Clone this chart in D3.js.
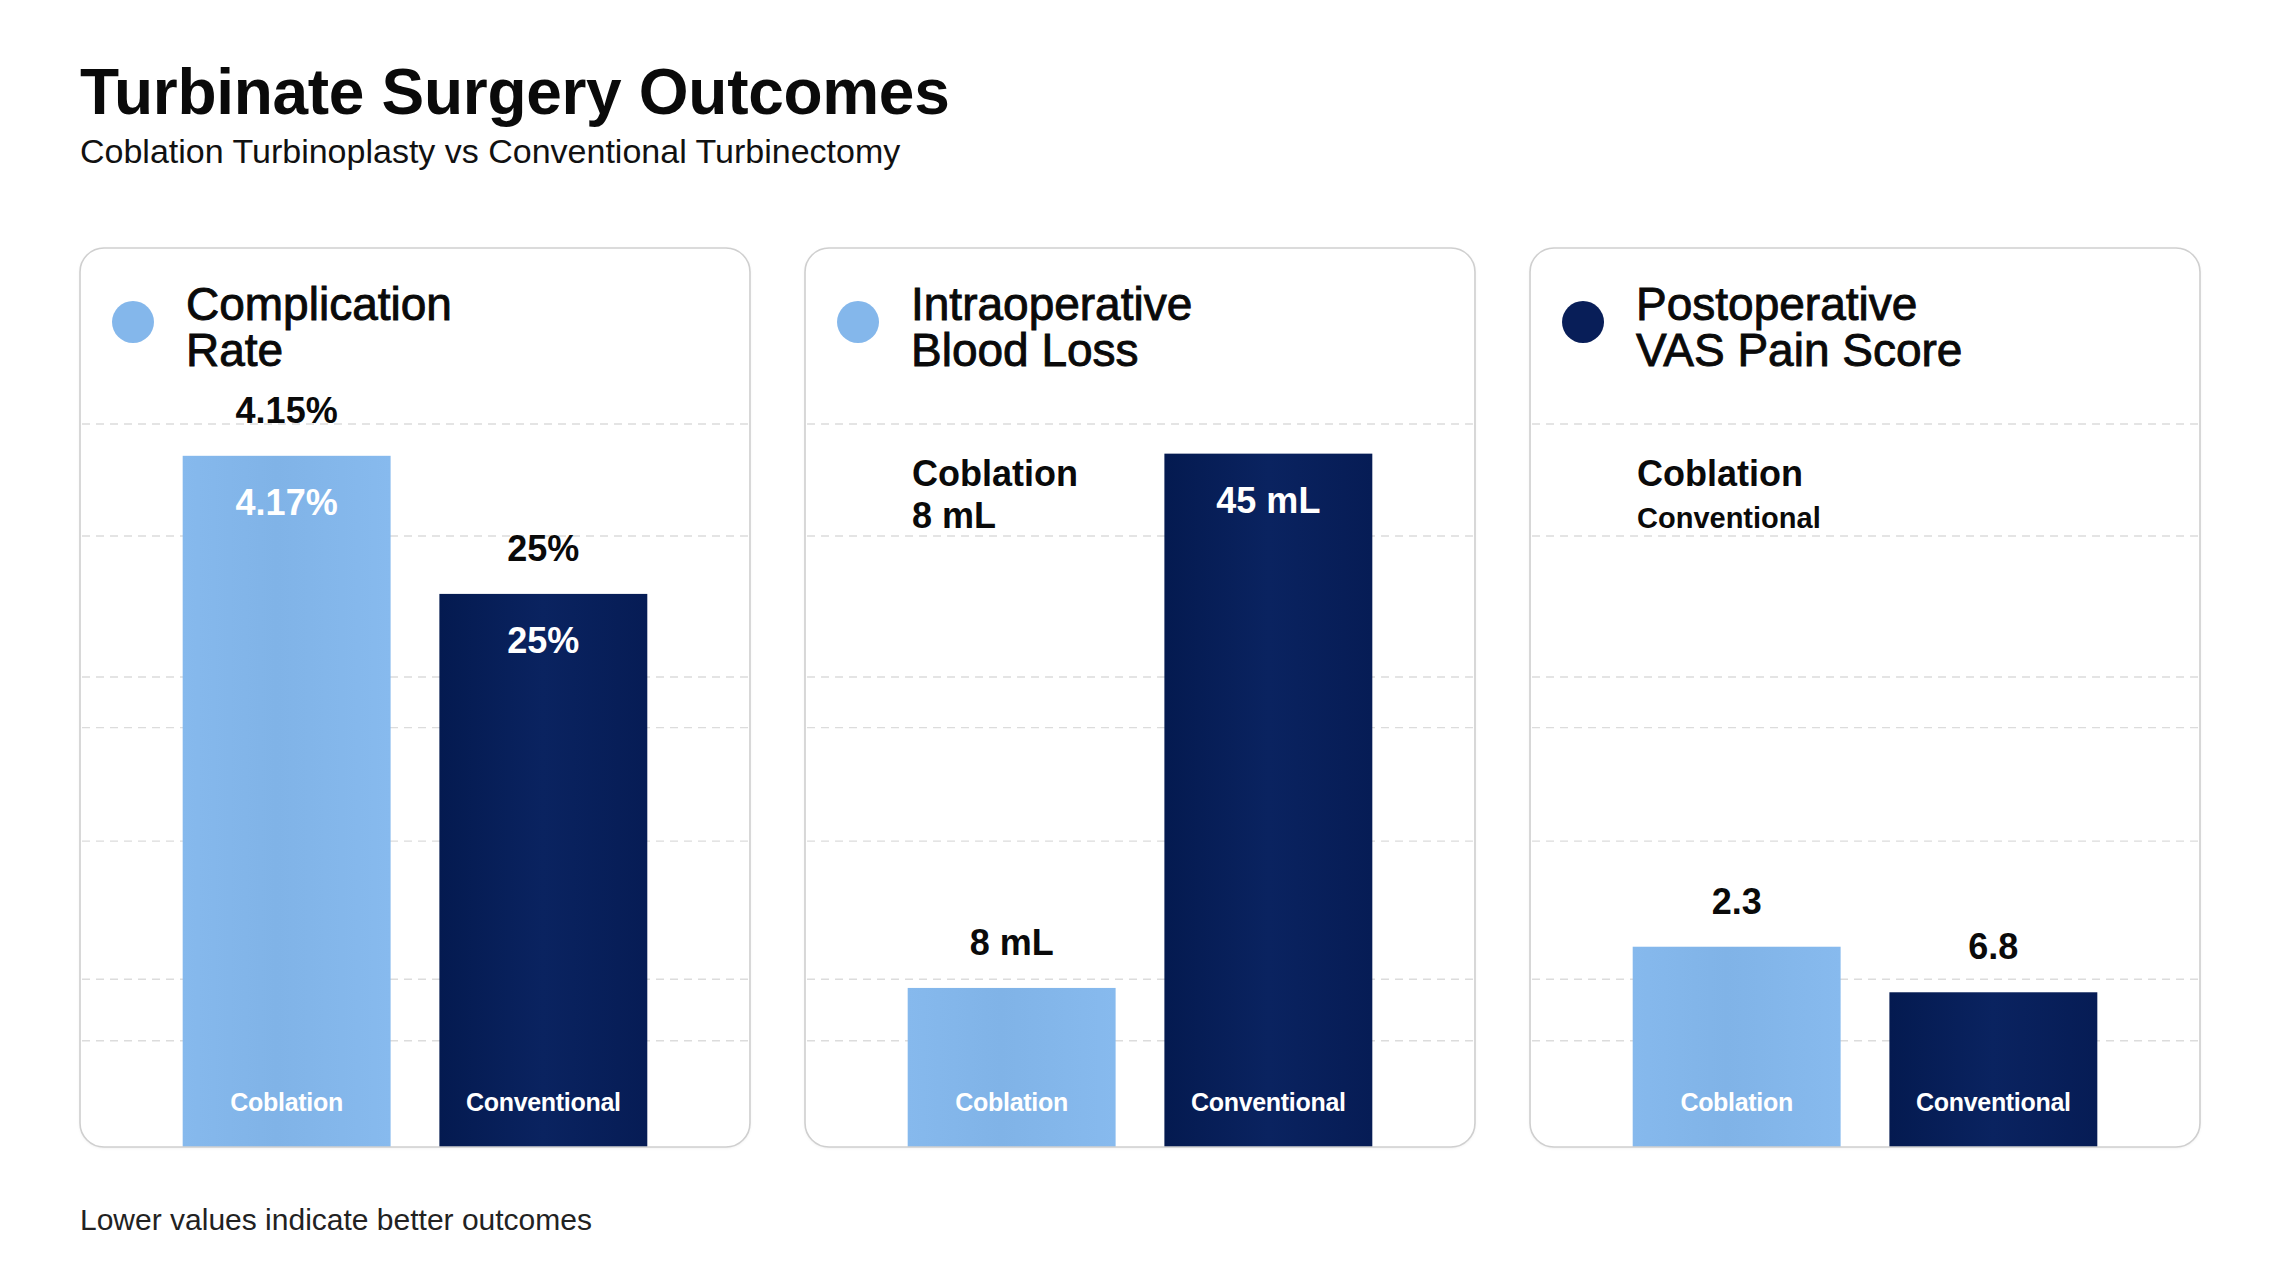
<!DOCTYPE html>
<html>
<head>
<meta charset="utf-8">
<script src="https://cdn.jsdelivr.net/npm/d3@7"></script>
<style>
  html, body { margin: 0; padding: 0; background: #ffffff; }
  svg { display: block; }
  text { font-family: "Liberation Sans", Arial, Helvetica, sans-serif; }
</style>
</head>
<body>
<svg id="chart" width="2278" height="1280"></svg>
<script>
// ---------------- DATA ----------------
const chartTitle = "Turbinate Surgery Outcomes";
const chartSubtitle = "Coblation Turbinoplasty vs Conventional Turbinectomy";
const footnote = "Lower values indicate better outcomes";

const categories = ["Coblation", "Conventional"];
const metricTitles = [
  ["Complication", "Rate"],
  ["Intraoperative", "Blood Loss"],
  ["Postoperative", "VAS Pain Score"]
];
const metricDotSeries = [0, 0, 1]; // which category colour each panel's dot uses

// Bar heights as drawn in the source, in % of the plot height
// (the source does not draw bars proportional to their printed labels)
const complicationBars = [95.6, 76.5];
const bloodLossBars = [22.0, 95.9];
const painBars = [27.7, 21.4];

// printed value labels
const complicationTopLabels = ["4.15%", "25%"];
const complicationInnerLabels = ["4.17%", "25%"];
const bloodLossTopLabels = ["8 mL", ""];
const bloodLossInnerLabels = ["", "45 mL"];
const painTopLabels = ["2.3", "6.8"];
const painInnerLabels = ["", ""];

// free-standing notes inside panels
const complicationNote = [];
const bloodLossNote = ["Coblation", "8 mL"];
const painNote = ["Coblation", "Conventional"];

// dashed grid levels (same % scale as the bars)
const gridTicks = [100, 84.5, 65, 58, 42.3, 23.2, 14.7];

// ---------------- STYLE ----------------
const W = 2278, H = 1280;
const lightBlue = "#84b7eb";
const navy = "#081e58";
const seriesColors = [lightBlue, navy];

const svg = d3.select("#chart");
const defs = svg.append("defs");
function hGrad(id, stops) {
  const g = defs.append("linearGradient").attr("id", id)
    .attr("x1", "0%").attr("x2", "100%").attr("y1", "0%").attr("y2", "0%");
  stops.forEach(s => g.append("stop").attr("offset", s[0]).attr("stop-color", s[1]));
}
hGrad("gLight", [["0%", "#86b9ed"], ["45%", "#80b3e7"], ["100%", "#87baee"]]);
hGrad("gNavy", [["0%", "#041a50"], ["50%", "#0a2360"], ["100%", "#061c55"]]);
const barFills = ["url(#gLight)", "url(#gNavy)"];

const shadow = defs.append("filter").attr("id", "cardShadow")
  .attr("x", "-5%").attr("y", "-5%").attr("width", "110%").attr("height", "110%");
shadow.append("feDropShadow").attr("dx", 0).attr("dy", 1).attr("stdDeviation", 1.5)
  .attr("flood-color", "#000").attr("flood-opacity", 0.08);

svg.append("rect").attr("width", W).attr("height", H).attr("fill", "#fff");

// ---------------- TITLES ----------------
svg.append("text").attr("x", 80).attr("y", 114)
  .attr("font-size", 64).attr("font-weight", 700).attr("fill", "#0a0a0a")
  .attr("letter-spacing", -0.3)
  .text(chartTitle);
svg.append("text").attr("x", 80).attr("y", 163)
  .attr("font-size", 34).attr("fill", "#111")
  .text(chartSubtitle);
svg.append("text").attr("x", 80).attr("y", 1230)
  .attr("font-size", 30).attr("fill", "#222")
  .text(footnote);

// ---------------- PANELS ----------------
const panelTop = 248, panelBottom = 1147;
const panelX = d3.scaleBand().domain([0, 1, 2]).range([80, 2200]).paddingInner(0.0759);
const pw = panelX.bandwidth();
const y = d3.scaleLinear().domain([0, 100]).range([panelBottom, 424]);
const xInner = d3.scaleBand().domain(categories).range([0, pw])
  .paddingInner(0.19).paddingOuter(0.4);

const panels = [
  { bars: complicationBars, top: complicationTopLabels, inner: complicationInnerLabels, note: complicationNote },
  { bars: bloodLossBars, top: bloodLossTopLabels, inner: bloodLossInnerLabels, note: bloodLossNote },
  { bars: painBars, top: painTopLabels, inner: painInnerLabels, note: painNote }
];

panels.forEach((p, i) => {
  const x0 = panelX(i);
  const g = svg.append("g").attr("transform", `translate(${x0},0)`);

  // card background
  g.append("rect").attr("x", 0).attr("y", panelTop).attr("width", pw)
    .attr("height", panelBottom - panelTop).attr("rx", 24).attr("ry", 24)
    .attr("fill", "#fff").attr("filter", "url(#cardShadow)");

  // grid
  g.selectAll("line.grid").data(gridTicks).join("line").attr("class", "grid")
    .attr("x1", 2).attr("x2", pw - 2)
    .attr("y1", d => y(d)).attr("y2", d => y(d))
    .attr("stroke", "#dcdcdc").attr("stroke-width", 1.4)
    .attr("stroke-dasharray", "8,6");

  // bars
  g.selectAll("rect.bar").data(p.bars).join("rect").attr("class", "bar")
    .attr("x", (d, j) => xInner(categories[j]))
    .attr("width", xInner.bandwidth())
    .attr("y", d => y(d))
    .attr("height", d => y(0) - y(d))
    .attr("fill", (d, j) => barFills[j]);

  // labels above bars
  g.selectAll("text.top").data(p.bars).join("text").attr("class", "top")
    .attr("x", (d, j) => xInner(categories[j]) + xInner.bandwidth() / 2)
    .attr("y", d => y(d) - 33)
    .attr("text-anchor", "middle").attr("font-size", 36).attr("font-weight", 700)
    .attr("fill", "#0a0a0a")
    .text((d, j) => p.top[j]);

  // labels inside bars (top)
  g.selectAll("text.inner").data(p.bars).join("text").attr("class", "inner")
    .attr("x", (d, j) => xInner(categories[j]) + xInner.bandwidth() / 2)
    .attr("y", d => y(d) + 59)
    .attr("text-anchor", "middle").attr("font-size", 36).attr("font-weight", 700)
    .attr("fill", "#fff")
    .text((d, j) => p.inner[j]);

  // category names at bar bottoms
  g.selectAll("text.cat").data(categories).join("text").attr("class", "cat")
    .attr("x", d => xInner(d) + xInner.bandwidth() / 2)
    .attr("y", panelBottom - 36)
    .attr("text-anchor", "middle").attr("font-size", 25).attr("font-weight", 700)
    .attr("letter-spacing", -0.3)
    .attr("fill", "#fff")
    .text(d => d);

  // card border (on top)
  g.append("rect").attr("x", 0).attr("y", panelTop).attr("width", pw)
    .attr("height", panelBottom - panelTop).attr("rx", 24).attr("ry", 24)
    .attr("fill", "none").attr("stroke", "#cfcfcf").attr("stroke-width", 1.6);

  // dot + title
  g.append("circle").attr("cx", 53).attr("cy", 322).attr("r", 21)
    .attr("fill", seriesColors[metricDotSeries[i]]);
  const t = g.append("text").attr("x", 106).attr("y", 320)
    .attr("font-size", 46).attr("fill", "#0a0a0a")
    .attr("stroke", "#0a0a0a").attr("stroke-width", 0.9);
  metricTitles[i].forEach((line, k) => {
    t.append("tspan").attr("x", 106).attr("y", 320 + k * 46).text(line);
  });

  // notes
  p.note.forEach((line, k) => {
    const small = (i === 2 && k === 1);
    g.append("text").attr("x", 107).attr("y", 486 + k * 42)
      .attr("font-size", small ? 29 : 36).attr("font-weight", 700)
      .attr("fill", "#0a0a0a")
      .text(line);
  });
});
</script>
</body>
</html>
